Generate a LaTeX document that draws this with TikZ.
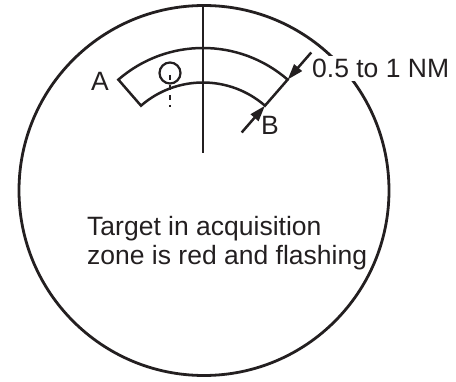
\documentclass[tikz,border=0pt]{standalone}
\usepackage{fontspec}
\setmainfont{Liberation Sans}
\usetikzlibrary{arrows.meta,calc}
\definecolor{ink}{HTML}{231F20}
\tikzset{
  thick line/.style={draw=ink, line width=2.5pt},
  rim/.style={draw=ink, line width=2.8pt},
  dim arrow/.style={draw=ink, line width=2.5pt, -{Triangle[length=16pt,width=10pt]}},
  dotline/.style={draw=ink, line width=1.5pt, dash pattern=on 5pt off 5pt},
  lbl/.style={text=ink, font=\fontsize{26.5}{30}\selectfont, inner sep=0pt},
}
\begin{document}
\begin{tikzpicture}[x=1pt,y=1pt]
\useasboundingbox (0,0) rectangle (456,381);
% outer radar circle
\draw[rim] (204,190.5) circle (185pt);
% heading line
\coordinate (htop) at (203,376);
\coordinate (hbot) at (203,228);
\draw[thick line] (htop) -- (hbot);
% acquisition zone sector
\coordinate (C) at (203,204);
\coordinate (oL) at ($(C)+(131:129)$);
\coordinate (iL) at ($(C)+(131:94.5)$);
\coordinate (oR) at ($(C)+(49:129)$);
\coordinate (iR) at ($(C)+(49:94.5)$);
\draw[thick line, line join=miter] (iL) -- (oL) arc[start angle=131, end angle=49, radius=129pt] -- (iR) arc[start angle=49, end angle=131, radius=94.5pt] -- cycle;
% target symbol
\node[circle, draw=ink, line width=2.2pt, minimum size=21pt, inner sep=0pt] (tgt) at (170,308) {};
\coordinate (dend) at (170,274);
\draw[dotline] ([yshift=-2pt]tgt.center) -- (dend);
% labels
\node[lbl, anchor=base] (A) at (100,290.5) {A};
\node[lbl, anchor=base] (B) at (270,246) {B};
\node[lbl, anchor=base west, fill=white, inner sep=3pt] (nm) at (309,303) {0.5 to 1 NM};
% dimension arrows
\coordinate (u0) at ($(C)+(49:165)$);
\coordinate (l0) at ($(C)+(49:59)$);
\draw[dim arrow] (u0) -- (oR);
\draw[dim arrow] (l0) -- (iR);
% caption
\node[lbl, anchor=base west] (t1) at (87,145) {Target in acquisition};
\node[lbl, anchor=base west] (t2) at (87,116) {zone is red and flashing};
\end{tikzpicture}
\end{document}
